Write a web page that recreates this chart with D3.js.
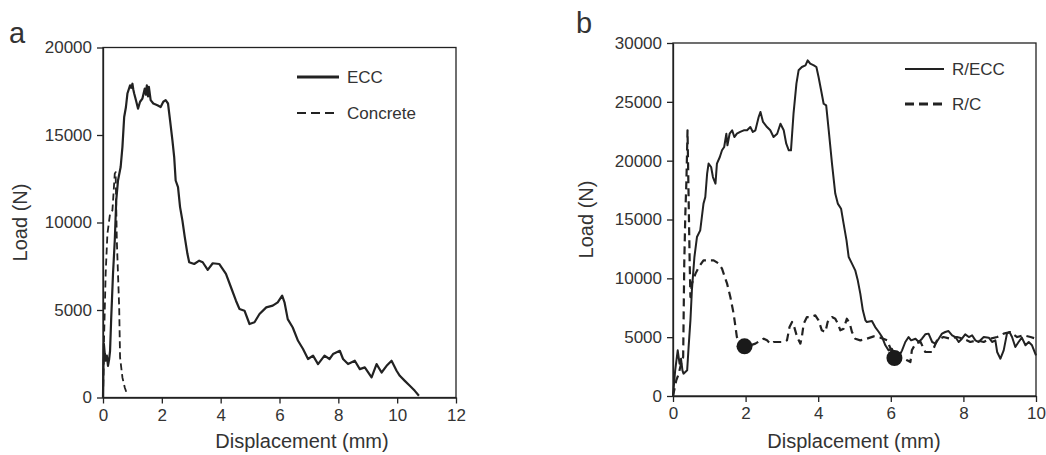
<!DOCTYPE html>
<html>
<head>
<meta charset="utf-8">
<script src="https://cdn.jsdelivr.net/npm/d3@7"></script>
<style>
  body { margin: 0; background: #fff; }
  svg text { font-family: "Liberation Sans", Arial, sans-serif; fill: #333; }
</style>
</head>
<body>
<div class="container"></div>
<script>
// panel a: displacement (mm), load (N)
const eccData = [[0,0],[0.01,1500],[0.03,3070],[0.06,2500],[0.09,2100],[0.13,2400],[0.17,1810],[0.21,2200],[0.24,2670],[0.28,4580],[0.34,7060],[0.4,8970],[0.45,11260],[0.51,12400],[0.6,13170],[0.66,14310],[0.72,16030],[0.78,16600],[0.83,17370],[0.92,17840],[0.96,17700],[1.0,17930],[1.03,17600],[1.06,17370],[1.12,16990],[1.19,16510],[1.26,16900],[1.34,17080],[1.42,17650],[1.46,17300],[1.49,17840],[1.53,17200],[1.56,17750],[1.62,16990],[1.71,16800],[1.85,16700],[1.96,16600],[2.05,16900],[2.13,16990],[2.21,16800],[2.28,15840],[2.36,14690],[2.42,13740],[2.47,12400],[2.55,12020],[2.62,10880],[2.7,10110],[2.78,9160],[2.87,8210],[2.93,7730],[3.1,7630],[3.27,7820],[3.39,7730],[3.56,7290],[3.73,7670],[3.95,7630],[4.18,7060],[4.35,6300],[4.52,5530],[4.64,5060],[4.81,4960],[4.98,4200],[5.15,4300],[5.32,4770],[5.55,5150],[5.77,5250],[5.94,5440],[6.09,5820],[6.17,5440],[6.28,4480],[6.45,4000],[6.63,3240],[6.8,2770],[6.97,2200],[7.14,2390],[7.31,1910],[7.53,2390],[7.7,2200],[7.82,2480],[8.05,2670],[8.16,2200],[8.33,1910],[8.56,2100],[8.73,1620],[8.9,1720],[9.13,1150],[9.3,1910],[9.47,1430],[9.64,1810],[9.81,2100],[9.98,1530],[10.09,1240],[10.26,950],[10.43,670],[10.6,380],[10.74,100]];
const concreteData = [[0,0],[0.02,1500],[0.034,3240],[0.09,7060],[0.15,9350],[0.24,10500],[0.32,10690],[0.35,11450],[0.4,12790],[0.43,12880],[0.47,8970],[0.51,7060],[0.55,5150],[0.58,2290],[0.66,1145],[0.74,570],[0.81,230]];

// panel b
const reccData = [[0,0],[0.06,2180],[0.13,3880],[0.18,2750],[0.22,3170],[0.26,2180],[0.29,1900],[0.39,2180],[0.43,4160],[0.48,6430],[0.52,8980],[0.59,11810],[0.66,13510],[0.75,14080],[0.84,16350],[0.89,16910],[0.94,18900],[0.98,19750],[1.05,19460],[1.1,18610],[1.17,18050],[1.21,19750],[1.29,20310],[1.35,20880],[1.41,21160],[1.47,22290],[1.5,21300],[1.56,22290],[1.63,22580],[1.69,22010],[1.76,22290],[1.85,22440],[1.95,22580],[2.04,22580],[2.13,22860],[2.2,22440],[2.27,22580],[2.36,23710],[2.41,24140],[2.48,23290],[2.59,22860],[2.68,22580],[2.77,22010],[2.87,22290],[2.96,23140],[3.05,22580],[3.12,21440],[3.19,20880],[3.25,20880],[3.32,23990],[3.4,26540],[3.46,27680],[3.55,27960],[3.65,28100],[3.71,28530],[3.78,28240],[3.88,28100],[3.95,27960],[4.01,27110],[4.08,25980],[4.15,24840],[4.22,24700],[4.29,22580],[4.38,19750],[4.47,17200],[4.54,16350],[4.63,15920],[4.7,14650],[4.78,13230],[4.84,11810],[4.93,11250],[5.02,10680],[5.09,9830],[5.16,8700],[5.23,7280],[5.3,6430],[5.34,6290],[5.48,6370],[5.57,5860],[5.67,5440],[5.76,5010],[5.85,4310],[5.94,3880],[6.03,4020],[6.12,3460],[6.22,3310],[6.31,3880],[6.4,4590],[6.49,5010],[6.56,4730],[6.68,4870],[6.77,4590],[6.86,4870],[6.95,5240],[7.04,5300],[7.14,4590],[7.23,4450],[7.32,4870],[7.41,5300],[7.5,5440],[7.59,5520],[7.69,5160],[7.78,5010],[7.87,4590],[7.96,4870],[8.05,5240],[8.15,5010],[8.24,5160],[8.33,4730],[8.42,4590],[8.56,5010],[8.7,4960],[8.79,4590],[8.88,4730],[8.93,3740],[9.02,3170],[9.11,3880],[9.2,5300],[9.27,5440],[9.34,5010],[9.43,4160],[9.52,4590],[9.61,4960],[9.71,4310],[9.8,4590],[9.89,4310],[10,3460]];
const rcData = [[0,0],[0.09,1330],[0.16,1900],[0.2,2460],[0.28,3310],[0.31,11250],[0.34,15500],[0.37,18330],[0.39,21160],[0.4,22580],[0.43,16910],[0.46,11250],[0.48,8410],[0.52,9550],[0.62,10400],[0.71,10960],[0.84,11530],[0.98,11530],[1.12,11530],[1.26,11250],[1.35,10820],[1.49,9550],[1.58,8410],[1.67,7000],[1.76,5010],[1.85,4450],[1.97,4220],[2.13,4310],[2.27,4450],[2.41,4730],[2.5,4870],[2.59,4730],[2.68,4450],[2.77,4590],[2.91,4590],[3.05,4590],[3.14,4730],[3.21,5860],[3.28,6290],[3.34,5860],[3.42,5010],[3.51,4450],[3.55,5010],[3.6,6150],[3.69,6710],[3.78,6710],[3.92,6860],[4.01,6430],[4.1,5580],[4.2,5440],[4.26,6290],[4.38,6710],[4.47,6570],[4.54,6150],[4.61,5580],[4.7,5720],[4.79,6570],[4.87,6150],[4.93,5440],[5.02,4870],[5.16,4730],[5.34,4870],[5.53,5070],[5.71,4960],[5.9,4730],[6.03,3740],[6.11,3260],[6.25,3300],[6.45,3030],[6.54,2890],[6.58,3880],[6.68,4450],[6.82,4590],[6.95,3740],[7.14,3740],[7.27,4730],[7.45,5010],[7.64,4870],[7.82,5010],[8.0,4870],[8.19,4590],[8.37,4730],[8.56,4590],[8.74,4870],[8.93,5010],[9.11,5300],[9.29,5440],[9.48,5010],[9.66,5160],[9.85,5010],[10,4870]];
const rcMarkers = [[1.97,4220],[6.1,3230]];

const xTicksA = [0, 2, 4, 6, 8, 10, 12];
const yTicksA = [0, 5000, 10000, 15000, 20000];
const xTicksB = [0, 2, 4, 6, 8, 10];
const yTicksB = [0, 5000, 10000, 15000, 20000, 25000, 30000];

const WIDTH = 1046;
const HEIGHT = 455;
const INK = '#222';

var svg = d3.select('.container').append('svg')
    .attr('width', WIDTH)
    .attr('height', HEIGHT);

var drawPanel = function (p) {
    var x = d3.scaleLinear().domain([0, p.xMax]).range([p.left, p.right]);
    var y = d3.scaleLinear().domain([0, p.yMax]).range([p.bottom, p.top]);

    var xAxis = d3.axisBottom(x).tickValues(p.xTicks).tickFormat(d3.format('d'))
        .tickSize(6).tickSizeOuter(0).tickPadding(5);
    var yAxis = d3.axisLeft(y).tickValues(p.yTicks).tickFormat(d3.format('d'))
        .tickSize(6).tickSizeOuter(0).tickPadding(5);

    var gx = svg.append('g').attr('transform', `translate(0, ${p.bottom})`).call(xAxis);
    var gy = svg.append('g').attr('transform', `translate(${p.left}, 0)`).call(yAxis);
    [gx, gy].forEach(g => {
        g.selectAll('path, line').attr('stroke', INK).attr('stroke-width', 1.3);
        g.selectAll('text').style('font-size', '17px').attr('fill', '#333');
        g.attr('font-family', null);
    });

    svg.append('rect')
        .attr('x', p.left).attr('y', p.top)
        .attr('width', p.right - p.left).attr('height', p.bottom - p.top)
        .attr('fill', 'none').attr('stroke', INK).attr('stroke-width', 1.3);

    var line = d3.line().x(d => x(d[0])).y(d => y(d[1]));

    p.series.forEach(s => {
        svg.append('path').datum(s.data)
            .attr('d', line)
            .attr('fill', 'none')
            .attr('stroke', INK)
            .attr('stroke-width', s.width)
            .attr('stroke-linejoin', 'round')
            .attr('stroke-dasharray', s.dash || null);
    });

    if (p.markers) {
        svg.selectAll(null).data(p.markers).enter().append('circle')
            .attr('cx', d => x(d[0])).attr('cy', d => y(d[1]))
            .attr('r', 8).attr('fill', '#1a1a1a');
    }

    // legend
    p.series.forEach((s, i) => {
        var ly = p.legend.y + i * p.legend.gap;
        svg.append('line')
            .attr('x1', p.legend.x).attr('x2', p.legend.x + p.legend.len)
            .attr('y1', ly).attr('y2', ly)
            .attr('stroke', INK).attr('stroke-width', s.legendWidth)
            .attr('stroke-dasharray', s.legendDash || null);
        svg.append('text')
            .attr('x', p.legend.x + p.legend.len + 8).attr('y', ly + 6)
            .style('font-size', '17px')
            .text(s.name);
    });

    svg.append('text')
        .attr('x', p.xTitleX).attr('y', 448)
        .attr('text-anchor', 'middle')
        .style('font-size', '20px')
        .text('Displacement (mm)');

    svg.append('text')
        .attr('transform', `translate(${p.yTitleX}, ${(p.top + p.bottom) / 2}) rotate(-90)`)
        .attr('text-anchor', 'middle')
        .style('font-size', '20px')
        .text('Load (N)');

    svg.append('text')
        .attr('x', p.tagX).attr('y', p.tagY)
        .style('font-size', '29px')
        .text(p.tag);
};

drawPanel({
    tag: 'a', tagX: 9, tagY: 43,
    left: 103, right: 456, top: 47.5, bottom: 397.5,
    xMax: 12, yMax: 20000, xTicks: xTicksA, yTicks: yTicksA,
    xTitleX: 302, yTitleX: 27,
    legend: { x: 297, y: 77, gap: 36, len: 42 },
    series: [
        { name: 'ECC', data: eccData, width: 2.2, legendWidth: 3.2 },
        { name: 'Concrete', data: concreteData, width: 1.8, dash: '7,4', legendWidth: 2, legendDash: '9,5' }
    ]
});

drawPanel({
    tag: 'b', tagX: 576, tagY: 33,
    left: 673, right: 1036, top: 43, bottom: 396,
    xMax: 10, yMax: 30000, xTicks: xTicksB, yTicks: yTicksB,
    xTitleX: 854, yTitleX: 593,
    legend: { x: 905, y: 69, gap: 35, len: 39 },
    series: [
        { name: 'R/ECC', data: reccData, width: 2, legendWidth: 2.2 },
        { name: 'R/C', data: rcData, width: 2.2, dash: '8,5', legendWidth: 3, legendDash: '9,5' }
    ],
    markers: rcMarkers
});
</script>
</body>
</html>
